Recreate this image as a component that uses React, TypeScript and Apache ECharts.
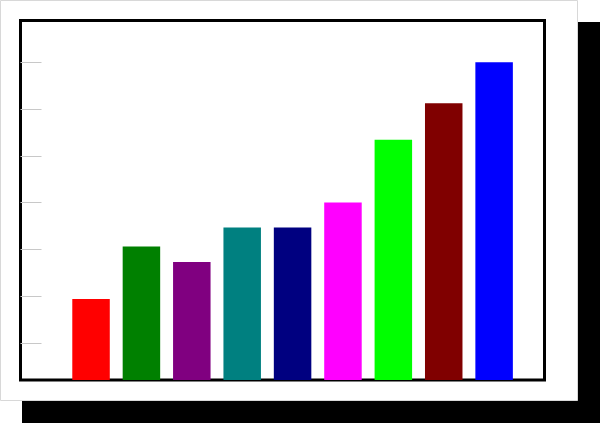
import React, { useEffect, useRef } from 'react';
import * as echarts from 'echarts';

// bar positions on the (hidden) x axis and their values
const positions = [1, 2, 3, 4, 5, 6, 7, 8, 9];
const values = [19.4, 30.6, 27.3, 34.7, 34.7, 40, 53.4, 61.2, 70];
const colors = ['#ff0000', '#008000', '#800080', '#008080', '#000080', '#ff00ff', '#00ff00', '#800000', '#0000ff'];
const tickValues = [10, 20, 30, 40, 50, 60, 70];

const App: React.FC = () => {
  const chartRef = useRef<HTMLDivElement>(null);

  useEffect(() => {
    document.body.style.margin = '0';
    if (!chartRef.current) return;
    const chart = echarts.init(chartRef.current, null, { renderer: 'svg' });

    const option = {
      animation: false,
      // drop shadow and white card behind the plot
      graphic: [
        {
          type: 'rect',
          z: -10,
          silent: true,
          shape: { x: 22, y: 22, width: 578, height: 401 },
          style: { fill: '#000' }
        },
        {
          type: 'rect',
          z: -9,
          silent: true,
          shape: { x: 0.5, y: 0.5, width: 577, height: 400 },
          style: { fill: '#fff', stroke: '#d8d8d8', lineWidth: 1 }
        }
      ],
      grid: {
        left: 20.5,
        top: 20.5,
        right: 55.5,
        bottom: 43,
        show: true,
        borderColor: '#000',
        borderWidth: 3,
        backgroundColor: 'transparent'
      },
      xAxis: {
        type: 'value',
        min: -0.4,
        max: 10,
        show: false
      },
      yAxis: {
        type: 'value',
        min: 2.1,
        max: 78.9,
        axisLine: { show: false, onZero: false },
        axisLabel: { show: false },
        splitLine: { show: false },
        axisTick: {
          show: true,
          inside: true,
          length: 21,
          customValues: tickValues,
          lineStyle: { color: '#c8c8c8', width: 1 }
        }
      },
      series: [
        {
          type: 'bar',
          barWidth: 37.5,
          data: positions.map((p, i) => ({
            value: [p, values[i]],
            itemStyle: { color: colors[i] }
          }))
        }
      ]
    };

    chart.setOption(option);
    return () => {
      chart.dispose();
    };
  }, []);

  return <div ref={chartRef} style={{ width: '600px', height: '423px' }}></div>;
};

export default App;
